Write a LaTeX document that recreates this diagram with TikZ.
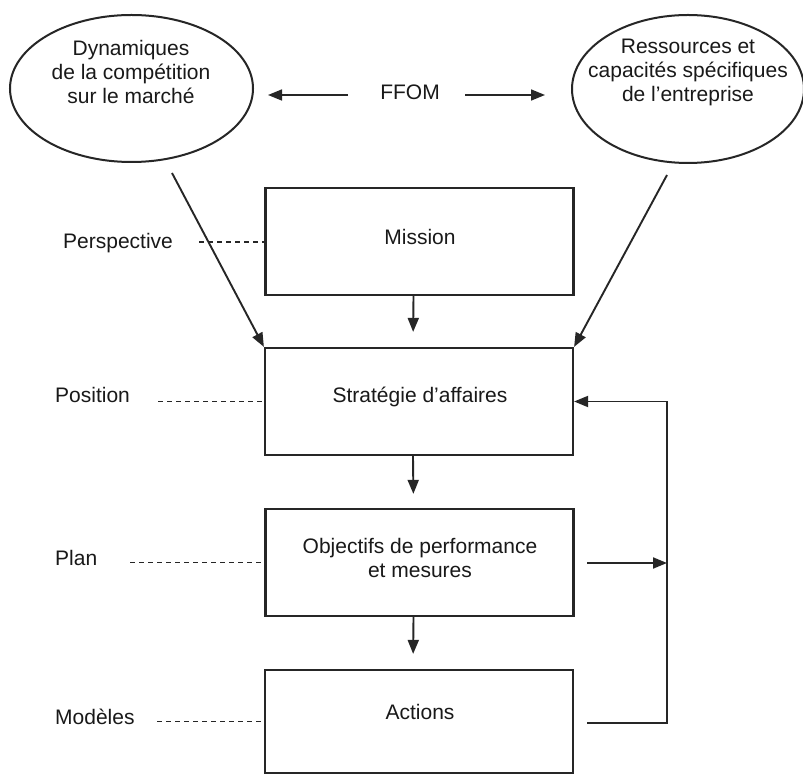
\documentclass[tikz,border=0pt]{standalone}
\usepackage{fontspec}
\setmainfont{Liberation Sans}
\usetikzlibrary{shapes.geometric,arrows.meta,calc}

\begin{document}
\begin{tikzpicture}[x=1pt,y=-1pt,
  every node/.style={font=\fontsize{21}{24}\selectfont, text=black!90},
  txt/.style={align=center, inner sep=0pt},
  lbl/.style={anchor=west, inner sep=0pt},
  oval/.style={ellipse, draw=black!85, line width=2pt},
  stepbox/.style={rectangle, draw=black!85, line width=2.2pt, minimum width=308pt, minimum height=107pt, inner sep=0pt},
  arr/.style={draw=black!85, line width=1.9pt, -{Triangle[length=14pt,width=11pt]}},
  thin arr/.style={draw=black!85, line width=1.6pt, -{Triangle[length=14pt,width=11pt]}},
  guide/.style={draw=black!85, line width=1.8pt, dash pattern=on 5pt off 4pt},
  loop/.style={draw=black!85, line width=1.9pt}
]
\useasboundingbox (0,0) rectangle (803,775);
\fill[white] (0,0) rectangle (803,775);

% top: the two sources of the SWOT analysis
\node[oval, minimum width=243pt, minimum height=147pt] (ellL) at (131.5,88.5) {};
\node[txt] (ellLtxt) at (131,72) {Dynamiques\\de la compétition\\sur le marché};
\node[oval, minimum width=232pt, minimum height=148pt] (ellR) at (688,89) {};
\node[txt] (ellRtxt) at (688,72) {Ressources et\\capacités spécifiques\\de l’entreprise};
\node[txt] (ffom) at (410,92) {FFOM};

\coordinate (fl) at (348,95);
\coordinate (fr) at (465,95);
\draw[thin arr, shorten >=14pt] (fl) -- (fl -| ellL.east);
\draw[thin arr, shorten >=26pt] (fr) -- (fr -| ellR.west);

% central chain of boxes
\node[stepbox] (mission) at (419.5,241.5) {};
\node[txt] (missiontxt) at (420,237) {Mission};
\node[stepbox] (strat) at (419,401.5) {};
\node[txt] (strattxt) at (420,397) {Stratégie d’affaires};
\node[stepbox] (obj) at (419.5,562.5) {};
\node[txt] (objtxt) at (420,558) {Objectifs de performance\\et mesures};
\node[stepbox, minimum height=103pt] (act) at (419,721.5) {};
\node[txt] (acttxt) at (420,712) {Actions};

\draw[arr, shorten >=15pt] ([xshift=-6pt]mission.south) -- ([xshift=-6pt]strat.north);
\draw[arr, shorten >=14pt] ([xshift=-6pt]strat.south) -- ([xshift=-6pt]obj.north);
\draw[arr, shorten >=15pt] ([xshift=-6pt]obj.south) -- ([xshift=-6pt]act.north);

% inputs from the two ovals
\coordinate (dl) at (172,173);
\coordinate (dr) at (667,175);
\draw[arr] (dl) -- (strat.north west);
\draw[arr] (dr) -- (strat.north east);

% feedback loop
\coordinate (fbA) at (587,723);
\coordinate (fbO) at (587,563);
\coordinate (fbx) at (667,723);
\draw[arr] (fbA) -- (fbx) |- (strat.east);
\draw[arr] (fbO) -- (fbO -| fbx);

% the five P labels
\node[lbl] (pers) at (63,243) {Perspective};
\node[lbl] (pos) at (55,395) {Position};
\node[lbl] (plan) at (55,558) {Plan};
\node[lbl] (mod) at (55,717) {Modèles};

\coordinate (gp) at (199,242);
\coordinate (gs) at (158,401.5);
\coordinate (go) at (130,562.5);
\coordinate (ga) at (157,721.5);
\draw[guide] (gp) -- (gp -| mission.west);
\draw[guide] (gs) -- (strat.west);
\draw[guide] (go) -- (obj.west);
\draw[guide] (ga) -- (act.west);
\end{tikzpicture}
\end{document}
